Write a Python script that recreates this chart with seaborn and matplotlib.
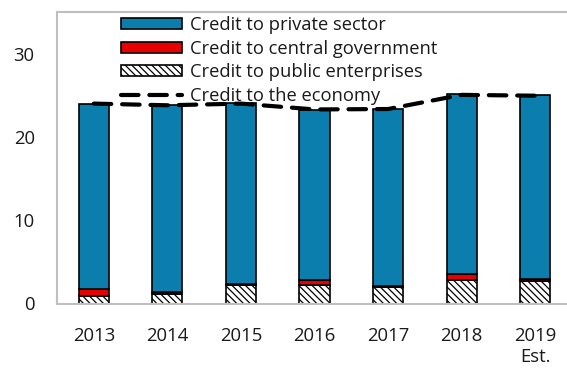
import numpy as np
import pandas as pd
import seaborn as sns
import matplotlib
matplotlib.use("Agg")
import matplotlib.pyplot as plt
from matplotlib.patches import Patch
from matplotlib.lines import Line2D

# Credit components, percent of GDP
years = ["2013", "2014", "2015", "2016", "2017", "2018", "2019\nEst."]
private_sector = [22.25, 22.4, 21.7, 20.45, 21.2, 21.6, 22.0]
central_gov = [0.85, 0.2, 0.15, 0.6, 0.15, 0.7, 0.3]
public_ent = [0.9, 1.2, 2.2, 2.2, 2.0, 2.8, 2.7]
economy = [24.0, 23.8, 24.0, 23.3, 23.35, 25.05, 24.95]

sns.set_theme(style="white")
plt.rcParams["font.family"] = ["Open Sans", "DejaVu Sans"]
plt.rcParams["text.color"] = "#1a1a1a"
plt.rcParams["hatch.color"] = "#555555"
plt.rcParams["hatch.linewidth"] = 0.9

BLUE = "#0B7EAD"
RED = "#E60000"
GRID = "#BFBFBF"
HATCH = "\\\\\\\\\\"

df = pd.DataFrame({
    "year": years,
    "private": private_sector,
    "central": central_gov,
    "public": public_ent,
})
base_central = np.array(public_ent)
base_private = base_central + np.array(central_gov)

fig = plt.figure(figsize=(5.67, 3.70), dpi=100)
ax = fig.add_axes([57 / 567, 66.5 / 370, 515 / 567, 291.5 / 370])

bar_kw = dict(width=0.41, edgecolor="black", linewidth=1.2, errorbar=None,
              order=years, ax=ax, saturation=1)
sns.barplot(data=df, x="year", y="public", color="white", hatch=HATCH, **bar_kw)
sns.barplot(data=df, x="year", y="central", color=RED, bottom=base_central,
            **bar_kw)
sns.barplot(data=df, x="year", y="private", color=BLUE, bottom=base_private,
            **bar_kw)

sns.lineplot(x=np.arange(len(years)), y=economy, color="black", lw=3.0,
             ax=ax, dashes=False)
ax.lines[-1].set_dashes([4.2, 2.6])
ax.lines[-1].set_dash_capstyle("round")

ax.set_xlim(-0.5, len(years) - 0.5)
ax.set_ylim(0, 35)
ax.set_yticks([0, 10, 20, 30])
ax.set_xlabel("")
ax.set_ylabel("")

for side in ["left", "top", "bottom"]:
    ax.spines[side].set_color(GRID)
    ax.spines[side].set_linewidth(1.5)
ax.spines["right"].set_visible(False)

ax.tick_params(axis="y", direction="in", length=6, width=1.2, color=GRID,
               labelsize=13.3, pad=16, labelcolor="#1a1a1a")
ax.tick_params(axis="x", which="major", length=0, labelsize=13.3, pad=17,
               labelcolor="#1a1a1a")
ax.set_xticks(np.arange(len(years) - 1) + 0.5, minor=True)
ax.tick_params(axis="x", which="minor", direction="in", length=4, width=1.2,
               color=GRID)

handles = [
    Patch(facecolor=BLUE, edgecolor="black", linewidth=1.2),
    Patch(facecolor=RED, edgecolor="black", linewidth=1.2),
    Patch(facecolor="white", edgecolor="black", linewidth=1.2, hatch=HATCH),
    Line2D([0], [0], color="black", lw=3.0, dashes=[4.2, 2.6],
           dash_capstyle="round"),
]
labels = ["Credit to private sector", "Credit to central government",
          "Credit to public enterprises", "Credit to the economy"]
ax.legend(handles, labels, loc="upper left", bbox_to_anchor=(121 / 567, 1 - 16 / 370),
          bbox_transform=fig.transFigure, frameon=False, fontsize=13.2,
          handlelength=3.3, handleheight=0.55, handletextpad=0.45,
          labelspacing=0.31, borderpad=0, borderaxespad=0,
          labelcolor="#1a1a1a")

fig.savefig("out.png", dpi=100)
